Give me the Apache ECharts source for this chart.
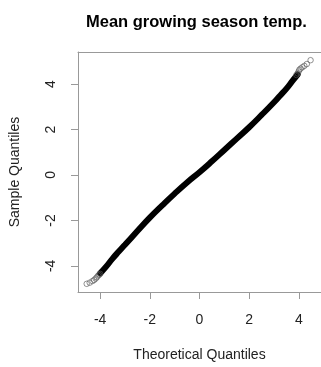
<!DOCTYPE html>
<html>
<head>
<meta charset="utf-8">
<style>html,body{margin:0;padding:0;background:#fff;}#c{width:321px;height:367px;}</style>
<script src="https://cdn.jsdelivr.net/npm/echarts@6/dist/echarts.min.js"></script>
</head>
<body>
<div id="c"></div>
<script>
// Dense central band of the Q-Q plot (theoretical, sample quantiles)
var denseX = [-4.0,-3.75,-3.5,-3.25,-3.0,-2.5,-2.0,-1.5,-1.0,-0.5,0,0.5,1.0,1.5,2.0,2.5,3.0,3.25,3.5,3.75,3.95];
var denseY = [-4.33,-4.02,-3.68,-3.37,-3.07,-2.47,-1.88,-1.34,-0.82,-0.33,0.12,0.6,1.1,1.6,2.1,2.64,3.2,3.5,3.8,4.15,4.42];
// Individually visible tail points
var lowTailX = [-4.54,-4.42,-4.31,-4.24,-4.18,-4.13,-4.08,-4.04,-4.0];
var lowTailY = [-4.79,-4.74,-4.67,-4.62,-4.56,-4.50,-4.43,-4.39,-4.35];
var highTailX = [3.9,3.95,3.99,4.02,4.07,4.14,4.22,4.32,4.47];
var highTailY = [4.40,4.47,4.55,4.63,4.68,4.74,4.80,4.88,5.05];
var xTicks = [-4,-2,0,2,4];
var yTicks = [-4,-2,0,2,4];

function zip(a,b){return a.map(function(v,i){return [v,b[i]];});}

var chart = echarts.init(document.getElementById('c'), null, {renderer:'canvas'});
var font = 'Liberation Sans, Arial, sans-serif';
var boxLine = {show:true, onZero:false, lineStyle:{color:'#999', width:1}};
chart.setOption({
  animation:false,
  title:{text:'Mean growing season temp.', left:81, top:9,
    textStyle:{fontFamily:font, fontSize:16.5, fontWeight:'bold', color:'#000'}},
  grid:{left:73, right:-1, top:52, bottom:73, show:false},
  xAxis:[{type:'value', min:-4.89, max:4.89, position:'bottom',
    name:'Theoretical Quantiles', nameLocation:'middle', nameGap:56,
    nameTextStyle:{fontFamily:font, fontSize:14, color:'#222'},
    axisLine:boxLine,
    axisTick:{show:true, length:7, lineStyle:{color:'#999'}, customValues:xTicks},
    axisLabel:{fontFamily:font, fontSize:14, color:'#222', margin:21, customValues:xTicks},
    splitLine:{show:false}},
   {type:'value', min:-4.89, max:4.89, position:'top',
    axisLine:boxLine, axisTick:{show:false}, axisLabel:{show:false}, splitLine:{show:false}}],
  yAxis:{type:'value', min:-5.15, max:5.41, position:'left',
    name:'Sample Quantiles', nameLocation:'middle', nameGap:56,
    nameTextStyle:{fontFamily:font, fontSize:14, color:'#222'},
    axisLine:boxLine,
    axisTick:{show:true, length:7, lineStyle:{color:'#999'}, customValues:yTicks},
    axisLabel:{fontFamily:font, fontSize:14, color:'#222', margin:20, rotate:90, customValues:yTicks},
    splitLine:{show:false}},
  series:[
    {type:'line', data:zip(denseX,denseY), smooth:true, showSymbol:false,
      lineStyle:{color:'#000', width:6, cap:'round'}, z:2},
    {type:'scatter', data:zip(lowTailX,lowTailY).concat(zip(highTailX,highTailY)),
      symbol:'circle', symbolSize:5.5,
      itemStyle:{color:'rgba(0,0,0,0)', borderColor:'#555', borderWidth:0.8}, z:3}
  ]
});
</script>
</body>
</html>
